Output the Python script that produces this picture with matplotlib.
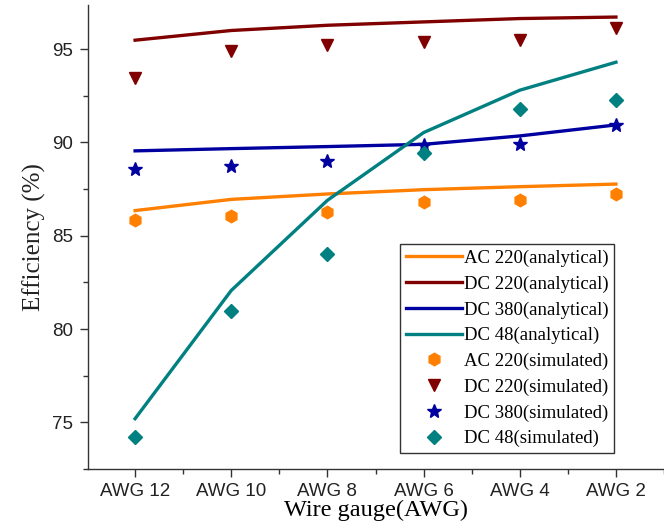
import numpy as np
import matplotlib
matplotlib.use("Agg")
import matplotlib.pyplot as plt
from matplotlib.ticker import MultipleLocator

# data
gauges = ["AWG 12", "AWG 10", "AWG 8", "AWG 6", "AWG 4", "AWG 2"]

ac220_ana = [86.35, 86.95, 87.24, 87.47, 87.63, 87.77]
dc220_ana = [95.48, 96.0, 96.28, 96.46, 96.64, 96.72]
dc380_ana = [89.55, 89.67, 89.78, 89.9, 90.35, 90.94]
dc48_ana = [75.2, 82.07, 86.9, 90.53, 92.8, 94.3]

ac220_sim = [85.87, 86.08, 86.26, 86.83, 86.9, 87.24]
dc220_sim = [93.43, 94.9, 95.2, 95.4, 95.5, 96.14]
dc380_sim = [88.57, 88.75, 89.02, 89.87, 89.92, 90.92]
dc48_sim = [74.2, 80.95, 84.0, 89.46, 91.78, 92.29]

c_ac220 = "#ff7f00"
c_dc220 = "#800000"
c_dc380 = "#0000a0"
c_dc48 = "#008080"

x = np.arange(len(gauges))

fig = plt.figure(figsize=(6.64, 5.30), dpi=100)
ax = fig.add_axes([0.1325, 0.115, 0.8675, 0.875])

lw = 2.4
ax.plot(x, ac220_ana, color=c_ac220, lw=lw, label="AC 220(analytical)")
ax.plot(x, dc220_ana, color=c_dc220, lw=lw, label="DC 220(analytical)")
ax.plot(x, dc380_ana, color=c_dc380, lw=lw, label="DC 380(analytical)")
ax.plot(x, dc48_ana, color=c_dc48, lw=lw, label="DC 48(analytical)")

ax.plot(x, ac220_sim, ls="none", marker="h", ms=9, color=c_ac220, label="AC 220(simulated)")
ax.plot(x, dc220_sim, ls="none", marker="v", ms=9, color=c_dc220, label="DC 220(simulated)")
ax.plot(x, dc380_sim, ls="none", marker="*", ms=10, color=c_dc380, label="DC 380(simulated)")
ax.plot(x, dc48_sim, ls="none", marker="D", ms=7, color=c_dc48, label="DC 48(simulated)")

ax.set_xlim(-0.49, 5.5)
ax.set_ylim(72.5, 97.35)
ax.set_xticks(x)
ax.set_xticklabels(gauges)
ax.xaxis.set_minor_locator(MultipleLocator(0.5))
ax.yaxis.set_major_locator(MultipleLocator(5))
ax.yaxis.set_minor_locator(MultipleLocator(2.5))

for s in ["top", "right"]:
    ax.spines[s].set_visible(False)
for s in ["left", "bottom"]:
    ax.spines[s].set_color("#333333")
    ax.spines[s].set_linewidth(1.0)

ax.tick_params(which="major", direction="out", length=6, width=1, color="#333333",
               labelsize=13.5, labelcolor="#222222")
ax.tick_params(axis="y", which="major", pad=5)
ax.tick_params(axis="x", which="major", pad=4)
ax.tick_params(which="minor", direction="out", length=3.5, width=1, color="#333333")
for lab in ax.get_xticklabels() + ax.get_yticklabels():
    lab.set_fontfamily("Liberation Sans")

ax.set_xlabel("Wire gauge(AWG)", fontsize=17.5, family="Liberation Serif", labelpad=0)
ax.set_ylabel("Efficiency (%)", fontsize=18, family="Liberation Serif", labelpad=4,
              color="#222222")

leg = ax.legend(loc="upper left", bbox_to_anchor=(0.542, 0.485), frameon=True,
                fancybox=False, edgecolor="#333333", framealpha=1,
                prop={"family": "Liberation Serif", "size": 13.5},
                handlelength=3.0, handletextpad=0.1, labelspacing=0.45,
                borderpad=0.3, borderaxespad=0)
leg.get_frame().set_linewidth(1.0)

fig.savefig("out.png", dpi=100)
